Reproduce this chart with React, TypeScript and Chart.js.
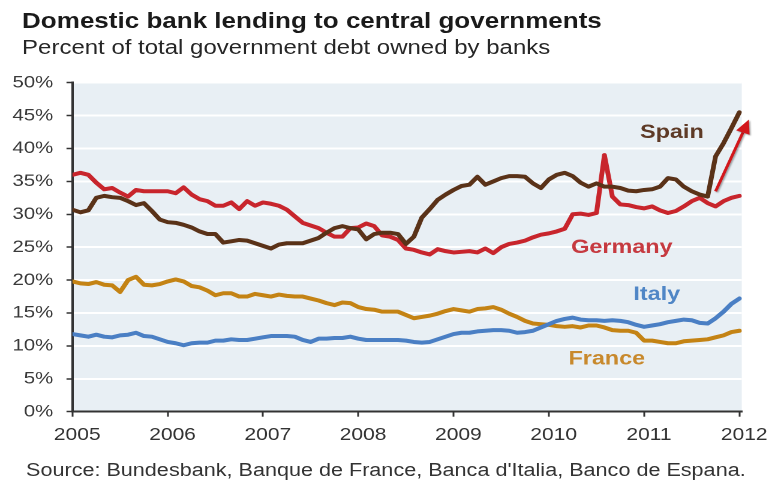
import React, { useEffect, useRef } from 'react';
import { Chart, registerables } from 'chart.js';

Chart.register(...registerables);

// Monthly observations, Jan 2005 (index 0) to Jan 2012 (index 84)
const yearLabels = ['2005', '2006', '2007', '2008', '2009', '2010', '2011', '2012'];

const spain = [
  30.7, 30.3, 30.6, 32.5, 32.8, 32.6, 32.5, 32.0, 31.4, 31.7, 30.5, 29.2,
  28.8, 28.7, 28.4, 28.0, 27.4, 27.0, 27.0, 25.7, 25.9, 26.1, 26.0, 25.6,
  25.2, 24.8, 25.4, 25.6, 25.6, 25.6, 26.0, 26.4, 27.2, 27.9, 28.2, 27.9,
  27.7, 26.2, 27.0, 27.2, 27.2, 27.0, 25.5, 26.6, 29.5, 30.8, 32.2, 33.0,
  33.7, 34.3, 34.5, 35.7, 34.5, 35.0, 35.5, 35.8, 35.8, 35.7, 34.7, 34.0,
  35.3, 36.0, 36.3, 35.8, 34.8, 34.2, 34.7, 34.2, 34.2, 34.0, 33.6, 33.5,
  33.7, 33.8, 34.2, 35.5, 35.3, 34.2, 33.5, 33.0, 32.7, 38.8, 40.8, 43.1,
  45.5,
];

const germany = [
  36.0, 36.3, 36.0, 34.8, 33.8, 34.0, 33.3, 32.7, 33.7, 33.5, 33.5, 33.5,
  33.5, 33.2, 34.1, 33.0, 32.3, 32.0, 31.3, 31.3, 31.8, 30.8, 32.0, 31.3,
  31.8, 31.6, 31.3, 30.7, 29.7, 28.7, 28.3, 27.9, 27.2, 26.6, 26.6, 27.9,
  28.0, 28.6, 28.2, 26.8, 26.6, 26.1, 24.8, 24.6, 24.2, 23.9, 24.7, 24.4,
  24.2, 24.3, 24.4, 24.2, 24.8, 24.1, 25.0, 25.5, 25.7, 26.0, 26.5, 26.9,
  27.1, 27.4, 27.8, 30.0, 30.1, 29.9, 30.2, 39.0, 32.7, 31.5, 31.4, 31.1,
  30.9, 31.2, 30.6, 30.2, 30.5, 31.2, 32.0, 32.5, 31.7, 31.2, 32.0, 32.5,
  32.8,
];

const italy = [
  11.8, 11.6, 11.4, 11.7, 11.4, 11.3, 11.6, 11.7, 12.0, 11.5, 11.4, 11.0,
  10.6, 10.4, 10.1, 10.4, 10.5, 10.5, 10.8, 10.8, 11.0, 10.9, 10.9, 11.1,
  11.3, 11.5, 11.5, 11.5, 11.4, 10.9, 10.6, 11.1, 11.1, 11.2, 11.2, 11.4,
  11.1, 10.9, 10.9, 10.9, 10.9, 10.9, 10.8, 10.6, 10.5, 10.6, 11.0, 11.4,
  11.8, 12.0, 12.0, 12.2, 12.3, 12.4, 12.4, 12.3, 12.0, 12.1, 12.3, 12.8,
  13.3, 13.8, 14.1, 14.3, 14.0, 13.9, 13.9, 13.8, 13.9, 13.8, 13.6, 13.2,
  12.9, 13.1, 13.3, 13.6, 13.8, 14.0, 13.9, 13.5, 13.4, 14.2, 15.2, 16.4,
  17.2,
];

const france = [
  19.8, 19.5, 19.4, 19.7, 19.3, 19.2, 18.2, 20.0, 20.5, 19.3, 19.2, 19.4,
  19.8, 20.1, 19.8, 19.1, 18.9, 18.4, 17.7, 18.0, 18.0, 17.5, 17.5, 17.9,
  17.7, 17.5, 17.8, 17.6, 17.5, 17.5, 17.2, 16.9, 16.5, 16.2, 16.6, 16.5,
  15.9, 15.6, 15.5, 15.2, 15.2, 15.2, 14.7, 14.2, 14.4, 14.6, 14.9, 15.3,
  15.6, 15.4, 15.2, 15.6, 15.7, 15.9, 15.5, 14.9, 14.4, 13.8, 13.4, 13.3,
  13.2, 13.0, 12.9, 13.0, 12.8, 13.1, 13.1, 12.8, 12.4, 12.3, 12.3, 12.0,
  10.8, 10.8, 10.6, 10.4, 10.4, 10.7, 10.8, 10.9, 11.0, 11.3, 11.6, 12.1,
  12.3,
];

const seriesNames = ['Spain', 'Germany', 'Italy', 'France'];
const lineColors = ['#5a3218', '#c8252c', '#4a7fc4', '#c48314'];
const labelColors = ['#5e3a26', '#c63a40', '#4f86c6', '#c8892c'];
// label anchors in data units (month index, percent)
const labelMonth = [75.5, 69.2, 73.6, 67.3];
const labelValue = [42.4, 24.9, 17.8, 8.0];
// arrow annotation in data units
const arrowFrom = [81.0, 33.5];
const arrowTo = [85.2, 44.4];

const FONT = '"Liberation Sans", Arial, Helvetica, sans-serif';
const DESIGN_W = 646;
const STRETCH = 775 / DESIGN_W;

const plotBg = {
  id: 'plotBg',
  beforeDraw(chart: any) {
    const { ctx, chartArea } = chart;
    if (!chartArea) return;
    ctx.save();
    ctx.fillStyle = '#e8eff4';
    ctx.fillRect(chartArea.left, chartArea.top, chartArea.right - chartArea.left, chartArea.bottom - chartArea.top);
    ctx.restore();
  },
};

const annotations = {
  id: 'annotations',
  afterDraw(chart: any) {
    const { ctx } = chart;
    const xs = chart.scales.x;
    const ys = chart.scales.y;
    ctx.save();
    ctx.font = `bold 19.5px ${FONT}`;
    ctx.textAlign = 'center';
    ctx.textBaseline = 'middle';
    seriesNames.forEach((name, i) => {
      ctx.fillStyle = labelColors[i];
      ctx.fillText(name, xs.getPixelForValue(labelMonth[i]), ys.getPixelForValue(labelValue[i]));
    });
    // arrow
    const x1 = xs.getPixelForValue(arrowFrom[0]);
    const y1 = ys.getPixelForValue(arrowFrom[1]);
    const x2 = xs.getPixelForValue(arrowTo[0]);
    const y2 = ys.getPixelForValue(arrowTo[1]);
    const ang = Math.atan2(y2 - y1, x2 - x1);
    const headLen = 14;
    const headW = 6;
    const bx = x2 - headLen * Math.cos(ang);
    const by = y2 - headLen * Math.sin(ang);
    ctx.shadowColor = 'rgba(0,0,0,0.35)';
    ctx.shadowBlur = 3;
    ctx.shadowOffsetX = 2;
    ctx.shadowOffsetY = 2;
    ctx.strokeStyle = '#d2161b';
    ctx.fillStyle = '#d2161b';
    ctx.lineWidth = 2.5;
    ctx.beginPath();
    ctx.moveTo(x1, y1);
    ctx.lineTo(bx, by);
    ctx.stroke();
    ctx.beginPath();
    ctx.moveTo(x2, y2);
    ctx.lineTo(bx + headW * Math.sin(ang), by - headW * Math.cos(ang));
    ctx.lineTo(bx - headW * Math.sin(ang), by + headW * Math.cos(ang));
    ctx.closePath();
    ctx.fill();
    ctx.restore();
  },
};

export default function App() {
  const canvasRef = useRef<HTMLCanvasElement | null>(null);

  useEffect(() => {
    if (!canvasRef.current) return;
    const toPoints = (arr: number[]) => arr.map((y, i) => ({ x: i, y }));
    const seriesData = [spain, germany, italy, france];
    const order = [2, 3, 0, 1]; // draw Italy, France, Spain, Germany
    const chart = new Chart(canvasRef.current, {
      type: 'line',
      data: {
        datasets: order.map((i) => ({
          label: seriesNames[i],
          data: toPoints(seriesData[i]),
          borderColor: lineColors[i],
          backgroundColor: lineColors[i],
          borderWidth: 4,
          pointRadius: 0,
          tension: 0,
          borderJoinStyle: 'round',
          borderCapStyle: 'round',
          fill: false,
        })),
      },
      options: {
        animation: false,
        responsive: false,
        devicePixelRatio: 2,
        layout: { padding: { top: 82.7, right: 27.7, bottom: 38.3, left: 0 } },
        plugins: {
          legend: { display: false },
          tooltip: { enabled: false },
          title: { display: false },
        },
        scales: {
          x: {
            type: 'linear',
            min: 0,
            max: 84.3,
            afterFit: (s: any) => {
              s.height = 30;
            },
            grid: {
              drawOnChartArea: false,
              drawTicks: true,
              tickLength: 5,
              tickColor: '#333333',
              tickWidth: 1.5,
            },
            border: { display: true, color: '#333333', width: 2 },
            ticks: {
              stepSize: 12,
              includeBounds: false,
              autoSkip: false,
              maxRotation: 0,
              labelOffset: 4,
              padding: 8,
              color: '#333333',
              font: { family: FONT, size: 17.5 },
              callback: (v: any) => yearLabels[Math.round(Number(v) / 12)] ?? '',
            },
          },
          y: {
            min: 0,
            max: 50,
            afterFit: (s: any) => {
              s.width = 60.4;
            },
            grid: {
              color: (c: any) => (c.tick && c.tick.value === 0 ? 'rgba(0,0,0,0)' : '#ffffff'),
              lineWidth: 2,
              drawTicks: true,
              tickLength: 5,
              tickColor: '#333333',
              tickWidth: 1.5,
            },
            border: { display: true, color: '#333333', width: 2 },
            ticks: {
              stepSize: 5,
              padding: 11,
              color: '#3a3a3a',
              font: { family: FONT, size: 17 },
              callback: (v: any) => `${v}%`,
            },
          },
        },
      } as any,
      plugins: [plotBg, annotations],
    });
    return () => chart.destroy();
  }, []);

  return (
    <div
      style={{
        position: 'absolute',
        left: 0,
        top: 0,
        width: DESIGN_W,
        height: 480,
        transform: `scaleX(${STRETCH})`,
        transformOrigin: '0 0',
        background: '#ffffff',
        fontFamily: FONT,
        overflow: 'hidden',
      }}
    >
      <canvas ref={canvasRef} width={DESIGN_W} height={480} style={{ position: 'absolute', left: 0, top: 0 }} />
      <div
        style={{
          position: 'absolute',
          left: 18.4,
          top: 9.9,
          fontSize: 21.7,
          lineHeight: '21.7px',
          fontWeight: 'bold',
          color: '#1a1a1a',
          whiteSpace: 'nowrap',
        }}
      >
        Domestic bank lending to central governments
      </div>
      <div
        style={{
          position: 'absolute',
          left: 18.4,
          top: 37.1,
          fontSize: 20,
          lineHeight: '20px',
          color: '#262626',
          whiteSpace: 'nowrap',
        }}
      >
        Percent of total government debt owned by banks
      </div>
      <div
        style={{
          position: 'absolute',
          left: 21.7,
          top: 461.3,
          fontSize: 18,
          lineHeight: '18px',
          color: '#333333',
          whiteSpace: 'nowrap',
        }}
      >
        Source: Bundesbank, Banque de France, Banca d'Italia, Banco de Espana.
      </div>
    </div>
  );
}
